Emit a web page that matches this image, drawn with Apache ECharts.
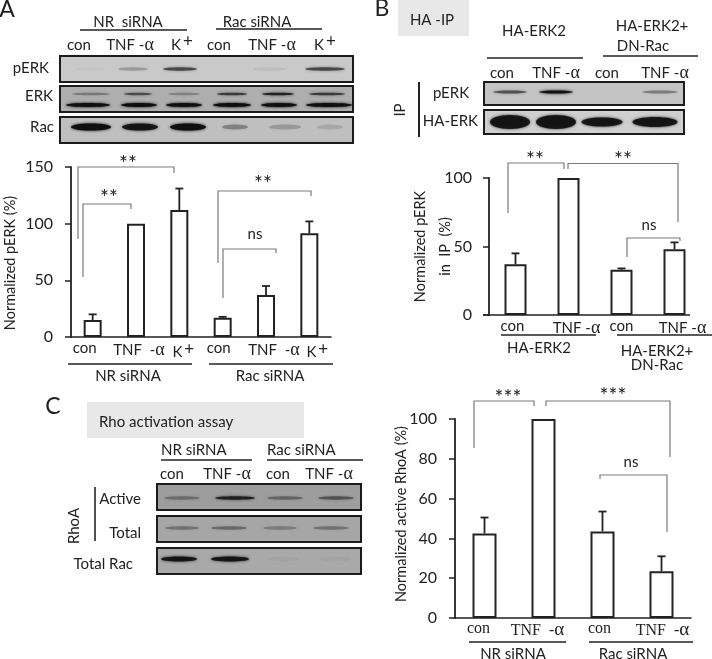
<!DOCTYPE html>
<html>
<head>
<meta charset="utf-8">
<style>html,body{margin:0;padding:0;background:#fff}#chart{width:712px;height:659px}</style>
<script src="https://cdn.jsdelivr.net/npm/echarts@6/dist/echarts.min.js"></script>
</head>
<body>
<div id="chart"></div>
<script>
// bar charts
const catA = ['con', 'TNF  -α', 'K+', 'con ', 'TNF  -α ', 'K+ '];
const valA = [15, 100, 112, 17, 37, 91.5];
const errA = [20, null, 131, 17.8, 45, 102];
const ticksA = [0, 50, 100, 150];

const catB = ['con', 'TNF -α', 'con ', 'TNF -α '];
const valB = [37, 100, 33, 48];
const errB = [45, null, 34, 53];
const ticksB = [0, 50, 100];

const catC = ['con', 'TNF  -α', 'con ', 'TNF  -α '];
const valC = [42.5, 100, 43.5, 23.5];
const errC = [50.5, null, 53.5, 31];
const ticksC = [0, 20, 40, 60, 80, 100];

// blot band strength per lane, 0..1
const blotApERK = [0.02, 0.22, 0.6, 0, 0.06, 0.6];
const blotAERKup = [0.3, 0.55, 0.25, 0.65, 0.8, 0.65];
const blotAERKlow = [1, 1, 1, 1, 1, 1];
const blotARac = [1, 0.9, 1, 0.3, 0.2, 0.12];
const blotBpERK = [0.55, 0.95, 0, 0.35];
const blotBHA = [0.9, 0.9, 0.9, 0.9];
const blotCActive = [0.3, 0.8, 0.35, 0.45];
const blotCTotal = [0.3, 0.35, 0.25, 0.3];
const blotCRac = [0.9, 0.9, 0.04, 0.03];

const FONT = 'Lato';
const SERIF = 'Liberation Serif';
const INK = '#222';
const SIZE = 15;
const g = [];

function text(x, y, s, o) {
  o = o || {};
  g.push({
    type: 'text', x: x, y: y, rotation: o.rot || 0, z: 10,
    style: {
      text: s, fill: INK, font: (o.size || SIZE) + 'px ' + (o.font || FONT),
      textAlign: o.align || 'center', textVerticalAlign: 'middle', rich: labelRich(o.size || SIZE)
    }
  });
}
function stars(x, y, s) {
  text(x, y + 3, s, {size: 21});
}
function labelRich(size) {
  return {
    a: {fontFamily: SERIF, fontSize: size + 3, fill: INK},
    s: {fontSize: size + 2, fontFamily: FONT, fill: INK, verticalAlign: 'top', padding: [0, 0, 6, 2]}
  };
}
function lane(s) {
  return s.replace(/α/g, '{a|α}').replace(/K\+/, 'K{s|+}');
}
function line(x1, y1, x2, y2, color, w) {
  g.push({type: 'line', z: 9, shape: {x1: x1, y1: y1, x2: x2, y2: y2}, style: {stroke: color || INK, lineWidth: w || 1.3}});
}
function bracket(pts) {
  g.push({type: 'polyline', z: 9, shape: {points: pts}, style: {stroke: '#7a7a7a', lineWidth: 1.2, fill: null}});
}
function panel(x, y, w, h, bg) {
  g.push({type: 'rect', z: 2, shape: {x: x, y: y, width: w, height: h}, style: {fill: bg, stroke: '#1c1c1c', lineWidth: 2}});
}
function bands(strength, centers, widths, y, heights) {
  strength.forEach(function (v, i) {
    if (v <= 0) return;
    const c = 'rgba(15,15,15,' + v + ')';
    const h = Array.isArray(heights) ? heights[i] : heights;
    g.push({
      type: 'ellipse', z: 3, silent: true,
      shape: {cx: centers[i], cy: y, rx: widths[i] / 2, ry: h / 2},
      style: {fill: c, shadowColor: c, shadowBlur: 3}
    });
  });
}

// panel A
text(7, 10, 'A', {size: 23});
text(128, 22, 'NR  siRNA'); line(80, 30, 187, 30, INK, 1.5);
text(257, 22, 'Rac siRNA'); line(216, 29, 322, 29, INK, 1.5);
[[79, 'con'], [130, 'TNF -α'], [182, 'K+'], [219, 'con'], [272, 'TNF -α'], [325, 'K+']].forEach(function (l) {
  text(l[0], 45, lane(l[1]));
});
text(49, 68, 'pERK', {align: 'right'});
text(53, 96, 'ERK', {align: 'right'});
text(54, 127, 'Rac', {align: 'right'});
panel(60, 56, 293, 26, '#c9c9c9');
panel(60, 86, 293, 26, '#aeaeae');
panel(60, 117, 293, 26, '#bfbfbf');
bands(blotApERK, [91, 133, 180, 232, 270, 325], [30, 30, 34, 20, 34, 40], 69, 3.5);
bands(blotAERKup, [91, 138, 184, 232, 278, 327], [38, 28, 32, 30, 32, 36], 94, 2.5);
bands(blotAERKlow, [88, 139, 184, 232, 279, 329], [44, 36, 36, 38, 36, 46], 105, 4);
bands(blotARac, [91, 140, 188, 235, 285, 330], [40, 36, 36, 26, 32, 26], 127, [7, 7, 7, 5, 5, 5]);

bracket([[78, 239], [78, 167], [174, 167], [174, 173]]);
stars(128, 161, '**');
bracket([[83, 277], [83, 204], [131, 204], [131, 209]]);
stars(109, 195, '**');
bracket([[218, 263], [218, 191], [311, 191], [311, 196]]);
stars(263, 181, '**');
bracket([[223, 298], [223, 249], [276, 249], [276, 253]]);
text(255, 234, 'ns');
line(68, 364, 192, 364, INK, 1.5);
line(209, 364, 333, 364, INK, 1.5);
text(128, 376, 'NR siRNA');
text(270, 376, 'Rac siRNA');

// panel B
text(382, 9, 'B', {size: 23});
g.push({type: 'rect', z: 1, shape: {x: 398, y: 0, width: 71, height: 36}, style: {fill: '#e8e8e8'}});
text(432, 20, 'HA -IP');
text(534, 31, 'HA-ERK2'); line(487, 58, 583, 58, INK, 1.5);
text(652, 26, 'HA-ERK2+'); text(643, 46, 'DN-Rac'); line(603, 56, 698, 56, INK, 1.5);
[[502, 'con'], [556, 'TNF -α'], [607, 'con'], [665, 'TNF -α']].forEach(function (l) {
  text(l[0], 73, lane(l[1]));
});
text(400, 110, 'IP', {rot: Math.PI / 2});
line(419, 82, 419, 137, INK, 2);
text(451, 93, 'pERK');
text(478, 121, 'HA-ERK', {align: 'right'});
panel(484, 82, 200, 23, '#c4c4c4');
panel(484, 110, 200, 24, '#cfcfcf');
bands(blotBpERK, [510, 556, 610, 660], [34, 34, 20, 36], 92, 3);
bands(blotBHA, [510, 556, 602, 655], [40, 40, 41, 45], 122, [14, 14, 9, 10]);
bracket([[508, 213], [508, 163], [564, 163], [564, 169]]);
stars(535, 157, '**');
bracket([[568, 169], [568, 163.5], [678, 163.5], [678, 222]]);
stars(623, 157, '**');
bracket([[627, 257], [627, 238], [680, 238], [680, 241]]);
text(649, 225, 'ns');
line(501, 335, 596, 335, INK, 1.5);
line(617, 335, 712, 335, INK, 1.5);
text(539, 348, 'HA-ERK2');
text(657, 351, 'HA-ERK2+');
text(657, 365, 'DN-Rac');
line(483, 315, 690, 315, INK, 1.6);

// panel C
text(53, 407, 'C', {size: 23});
g.push({type: 'rect', z: 1, shape: {x: 87, y: 402, width: 217, height: 36}, style: {fill: '#e8e8e8'}});
text(99, 422, 'Rho activation assay', {align: 'left'});
text(161, 450, 'NR siRNA', {align: 'left'}); line(161, 460, 252, 460, INK, 1.5);
text(267, 450, 'Rac siRNA', {align: 'left'}); line(267, 460, 363, 460, INK, 1.5);
[[172, 'con'], [227, 'TNF -α'], [278, 'con'], [329, 'TNF -α']].forEach(function (l) {
  text(l[0], 474, lane(l[1]));
});
text(141, 499, 'Active', {align: 'right'});
text(141, 533, 'Total', {align: 'right'});
text(133, 564, 'Total Rac', {align: 'right'});
text(74, 526, 'RhoA', {rot: Math.PI / 2});
line(95, 487, 95, 541, INK, 1.6);
panel(157, 484, 204, 26, '#9d9d9d');
panel(157, 516, 204, 26, '#a6a6a6');
panel(157, 548, 204, 26, '#a9a9a9');
bands(blotCActive, [182, 235, 285, 336], [36, 40, 36, 36], 498, 3.5);
bands(blotCTotal, [182, 229, 280, 331], [34, 36, 34, 36], 528, 3.5);
bands(blotCRac, [179, 230, 283, 335], [36, 38, 32, 32], 559, 5);
bracket([[474, 448], [474, 401], [534, 401], [534, 406]]);
stars(508, 395, '***');
bracket([[546, 406], [546, 401], [670, 401], [670, 457]]);
stars(613, 393, '***');
bracket([[600, 479], [600, 475], [667, 475], [667, 532]]);
text(631, 462, 'ns');
line(469, 642, 566, 642, INK, 1.5);
line(589, 642, 693, 642, INK, 1.5);
text(513, 654, 'NR siRNA');
text(633, 654, 'Rac siRNA');

// one grid per bar chart
const grids = [
  {left: 64, top: 167, width: 267, height: 170},
  {left: 489, top: 178, width: 212, height: 137},
  {left: 455, top: 419, width: 236, height: 199}
];
function xAxis(idx, cats, shifts, margin, family, size, showLine) {
  return {
    type: 'category', gridIndex: idx,
    data: cats.map(function (c, i) {
      return {value: c, textStyle: {padding: shifts[i] > 0 ? [0, 0, 0, shifts[i] * 2] : [0, -shifts[i] * 2, 0, 0]}};
    }),
    axisTick: {show: false},
    axisLine: {show: showLine, lineStyle: {color: INK, width: 1.6}},
    axisLabel: {
      interval: 0, margin: margin, color: INK, fontFamily: family, fontSize: size,
      formatter: function (v) { return lane(v.trim()); },
      rich: {
        a: {fontFamily: SERIF, fontSize: size + 3, color: INK},
        s: {fontSize: 17, fontFamily: FONT, color: INK, verticalAlign: 'top', padding: [0, 0, 6, 2]}
      }
    }
  };
}
function yAxis(idx, max, ticks, step, margin, name, gap, pad, lh) {
  return {
    type: 'value', gridIndex: idx, min: 0, max: max, interval: step,
    name: name, nameLocation: 'middle', nameGap: gap, nameRotate: 90, nameMoveOverlap: false,
    nameTextStyle: {color: INK, fontFamily: FONT, fontSize: 14.5, padding: pad, lineHeight: lh || 18},
    splitLine: {show: false},
    axisLine: {show: true, lineStyle: {color: INK, width: 1.8}},
    axisTick: {show: true, length: 6, lineStyle: {color: INK, width: 1.5}},
    axisLabel: {margin: margin, color: INK, fontFamily: FONT, fontSize: 16, customValues: ticks}
  };
}
function barSeries(idx, vals, w) {
  return {
    type: 'bar', xAxisIndex: idx, yAxisIndex: idx, data: vals, barWidth: w, z: 3,
    itemStyle: {color: '#fff', borderColor: INK, borderWidth: 2}
  };
}
function errSeries(idx, errs) {
  const rows = [];
  errs.forEach(function (e, i) { if (e !== null) rows.push([i, e]); });
  const base = [valA, valB, valC][idx];
  return {
    type: 'custom', xAxisIndex: idx, yAxisIndex: idx, data: rows, z: 2,
    renderItem: function (params, api) {
      const i = api.value(0);
      const top = api.coord([i, api.value(1)]);
      const bot = api.coord([i, base[i]]);
      const st = {stroke: INK, lineWidth: 1.8, fill: null};
      return {
        type: 'group',
        children: [
          {type: 'line', shape: {x1: top[0], y1: top[1], x2: bot[0], y2: bot[1]}, style: st},
          {type: 'line', shape: {x1: top[0] - 4, y1: top[1], x2: top[0] + 4, y2: top[1]}, style: st}
        ]
      };
    }
  };
}

const chart = echarts.init(document.getElementById('chart'), null, {renderer: 'canvas'});
chart.setOption({
  animation: false,
  backgroundColor: '#fff',
  grid: grids,
  xAxis: [
    xAxis(0, catA, [-8, 3, 4, -4, 8, 8], 4, FONT, 15, true),
    xAxis(1, catB, [-3, 8, 0, 8], 4, FONT, 15, false),
    xAxis(2, catC, [-6, -6, -3, 1], 3, SERIF, 16, true)
  ],
  yAxis: [
    yAxis(0, 150, ticksA, 50, 18, 'Normalized pERK (%)', 52, [0, 22, 0, 0]),
    yAxis(1, 100, ticksB, 50, 17, 'Normalized pERK\nin  IP  (%)', 31, 0, 25),
    yAxis(2, 100, ticksC, 20, 18, 'Normalized active RhoA (%)', 45, [0, 0, 0, 9])
  ],
  series: [
    barSeries(0, valA, 18), errSeries(0, errA),
    barSeries(1, valB, 22), errSeries(1, errB),
    barSeries(2, valC, 24), errSeries(2, errC)
  ],
  graphic: {elements: g}
});
</script>
</body>
</html>
